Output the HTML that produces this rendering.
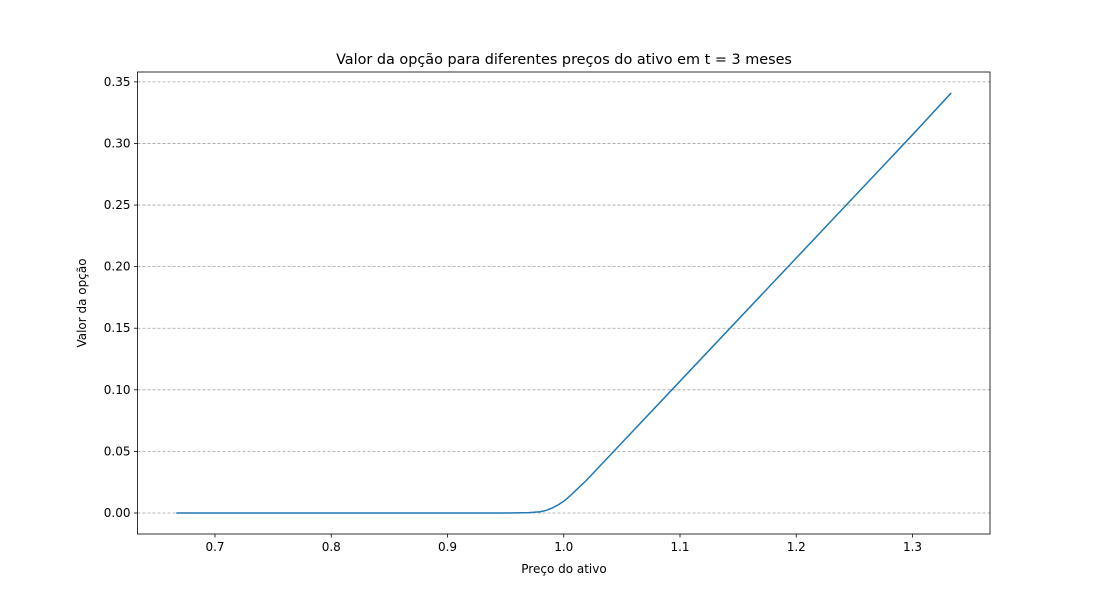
<!DOCTYPE html>
<html><head><meta charset="utf-8"><style>
body{margin:0;background:#fff;}
svg{display:block;font-family:"DejaVu Sans","Liberation Sans",sans-serif;}
</style></head><body>
<svg id="chart" width="1100" height="600">
<rect width="1100" height="600" fill="#fff"/>
<text x="564" y="64" font-size="14.4" text-anchor="middle">Valor da opção para diferentes preços do ativo em t = 3 meses</text>
<text x="564" y="573" font-size="12" text-anchor="middle">Preço do ativo</text>
<text transform="translate(86,303) rotate(-90)" font-size="12" text-anchor="middle">Valor da opção</text>
<g id="grid"></g><g id="xt"></g><g id="yt"></g>
<path id="line" fill="none" stroke="#1f77b4" stroke-width="1.5"/>
<rect x="137.5" y="72" width="852.5" height="462" fill="none" stroke="#000" stroke-width="0.8"/>
</svg>
<script>
const xs=[0.6667,0.8,0.9,0.95,0.97,0.98,0.985,0.99,0.995,1.0,1.005,1.01,1.02,1.03,1.05,1.1,1.2,1.3,1.3333];
const ys=[0,0,0,0,0.0003,0.001,0.0022,0.004,0.0065,0.0095,0.0135,0.018,0.027,0.037,0.057,0.107,0.207,0.307,0.341];
const xTicks=[0.7,0.8,0.9,1.0,1.1,1.2,1.3];
const xTickLabels=["0.7","0.8","0.9","1.0","1.1","1.2","1.3"];
const yTicks=[0,0.05,0.1,0.15,0.2,0.25,0.3,0.35];
const yTickLabels=["0.00","0.05","0.10","0.15","0.20","0.25","0.30","0.35"];
const L=137.5,R=990,T=72,B=534;
const x0=0.63333,x1=1.36667,y0=-0.01705,y1=0.358;
const sx=v=>L+(v-x0)/(x1-x0)*(R-L);
const sy=v=>B-(v-y0)/(y1-y0)*(B-T);
const NS="http://www.w3.org/2000/svg";
function mk(t,a,p){const e=document.createElementNS(NS,t);for(const k in a)e.setAttribute(k,a[k]);p.appendChild(e);return e;}
const g=document.getElementById('grid'),xt=document.getElementById('xt'),yt=document.getElementById('yt');
yTicks.forEach((v,i)=>{const y=sy(v);
const gl=mk('line',{x1:L,x2:R,y1:y,y2:y,stroke:'#a0a0a0','stroke-width':0.8,'stroke-dasharray':'3,2'},g);


const tk=mk('line',{x1:L-3.5,x2:L,y1:y,y2:y,stroke:'#000','stroke-width':0.8},yt);


const tx=mk('text',{x:L-7,y:y+4,'font-size':12,'text-anchor':'end'},yt);tx.textContent=yTickLabels[i];

});
xTicks.forEach((v,i)=>{const x=sx(v);
const tk=mk('line',{x1:x,x2:x,y1:B,y2:B+3.5,stroke:'#000','stroke-width':0.8},xt);


const tx=mk('text',{x:x,y:B+17,'font-size':12,'text-anchor':'middle'},xt);tx.textContent=xTickLabels[i];

});
document.getElementById('line').setAttribute('d',xs.map((v,i)=>(i?'L':'M')+sx(v).toFixed(2)+','+sy(ys[i]).toFixed(2)).join(''));
</script>
</body></html>
